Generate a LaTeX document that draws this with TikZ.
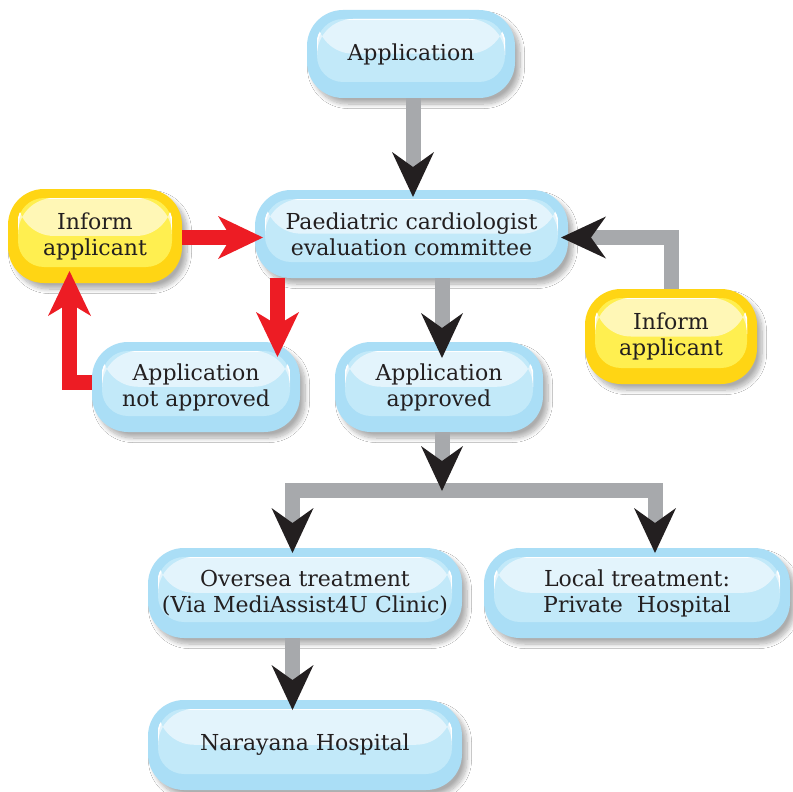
\documentclass[tikz,border=0pt]{standalone}
\usepackage{fontspec}
\setmainfont{DejaVu Serif}
\usetikzlibrary{arrows.meta,shadows.blur,calc}
\definecolor{boxblue}{HTML}{AADEF6}
\definecolor{bluehi}{HTML}{E3F4FC}
\definecolor{bluelo}{HTML}{C2E9F9}
\definecolor{boxyel}{HTML}{FFD514}
\definecolor{yelhi}{HTML}{FFF7B6}
\definecolor{yello}{HTML}{FFEF50}
\definecolor{arrgrey}{HTML}{A7A9AC}
\definecolor{arrred}{HTML}{ED1C24}
\definecolor{headblack}{HTML}{231F20}
\definecolor{txt}{HTML}{231F20}
\tikzset{
  glossy/.style n args={3}{
    fill=#1, draw=none, rounded corners=36pt,
    blur shadow={shadow xshift=5pt, shadow yshift=-6pt, shadow blur radius=4.5pt, shadow blur steps=10, shadow opacity=32},
    path picture={
      \coordinate (pnw) at ([xshift=10pt,yshift=-9pt]path picture bounding box.north west);
      \coordinate (pse) at ([xshift=-10pt,yshift=16pt]path picture bounding box.south east);
      \path (pnw) -- (pse) coordinate[pos=0.55] (pmid);
      \fill[#3, rounded corners=26pt] (pnw) rectangle (pse);
      \begin{scope}
        \clip (pnw) rectangle (pmid -| pse);
        \fill[#2, rounded corners=26pt] (pnw) rectangle (pse);
        \draw[white, line width=1.6pt, rounded corners=26pt] (pnw) rectangle (pse);
      \end{scope}
    },
    text=txt, align=center, inner sep=0pt,
    font=\fontsize{22pt}{26pt}\selectfont
  },
  bluebox/.style={glossy={boxblue}{bluehi}{bluelo}},
  yelbox/.style={glossy={boxyel}{yelhi}{yello}},
  gar/.style={draw=arrgrey, line width=15pt, line join=miter,
    -{Stealth[length=45pt 0 0, width=42pt 0 0, inset=15pt 0 0, line width=0pt 0 0, color=headblack]}},
  rar/.style={draw=arrred, line width=15pt, line join=miter,
    -{Stealth[length=45pt 0 0, width=43pt 0 0, inset=13pt 0 0, line width=0pt 0 0]}}
}
\begin{document}
\begin{tikzpicture}[x=1pt,y=-1pt]
\fill[white] (0,0) rectangle (793,792);
\useasboundingbox (0,0) rectangle (793,792);

\node[bluebox, minimum width=208pt, minimum height=88pt] (app) at (411,54) {Application};
\node[bluebox, minimum width=313pt, minimum height=88pt] (paed) at (411.5,234) {Paediatric cardiologist\\evaluation committee};
\node[yelbox, minimum width=174pt, minimum height=94pt] (infL) at (95,236) {Inform\\applicant};
\node[bluebox, minimum width=208pt, minimum height=90pt] (notap) at (196,387) {Application\\not approved};
\node[bluebox, minimum width=208pt, minimum height=90pt] (appr) at (439,387) {Application\\approved};
\node[yelbox, minimum width=172pt, minimum height=95pt] (infR) at (671,336.5) {Inform\\applicant};
\node[bluebox, minimum width=314pt, minimum height=90pt] (over) at (305,593) {Oversea treatment\\(Via MediAssist4U Clinic)};
\node[bluebox, minimum width=306pt, minimum height=90pt] (local) at (637,593) {Local treatment:\\Private~~Hospital};
\node[bluebox, minimum width=314pt, minimum height=90pt] (nara) at (305,745) {Narayana Hospital};

\coordinate (t1) at (413,197);
\coordinate (t2) at (263,237.5);
\coordinate (t3) at (277.5,357);
\coordinate (b4) at (69.5,382.5);
\coordinate (t4) at (69.5,271);
\coordinate (t5) at (442,358);
\coordinate (b6) at (671,237.5);
\coordinate (t6) at (561,237.5);
\coordinate (j) at (442,490.5);
\coordinate (t7) at (442,491);
\coordinate (t8) at (292.5,553);
\coordinate (t9) at (655,553);
\coordinate (t10) at (292.5,710);

\draw[gar] (app.south -| t1) -- (t1);
\draw[rar] (infL.east |- t2) -- (t2);
\draw[rar] (paed.south -| t3) -- (t3);
\draw[rar] (notap.west |- b4) -- (b4) -- (t4);
\draw[gar] (paed.south -| t5) -- (t5);
\draw[gar] (infR.north -| b6) -- (b6) -- (t6);
\draw[gar] (j) -| (t8);
\draw[gar] (j) -| (t9);
\draw[gar] (appr.south -| t7) -- (t7);
\draw[gar] (over.south -| t10) -- (t10);
\end{tikzpicture}
\end{document}
